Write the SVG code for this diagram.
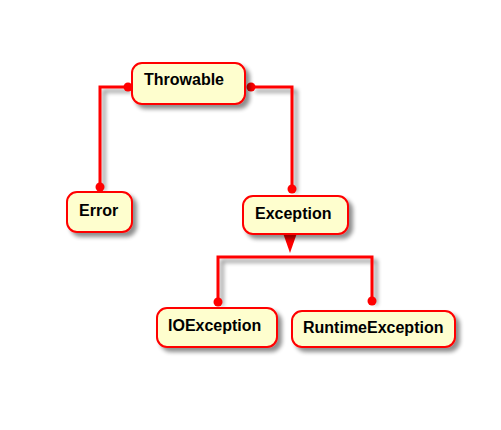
<svg xmlns="http://www.w3.org/2000/svg" width="501" height="430" viewBox="0 0 501 430">
<defs>
<filter id="sh" x="-20%" y="-20%" width="150%" height="160%">
<feGaussianBlur in="SourceAlpha" stdDeviation="2"/>
<feOffset dx="4" dy="4" result="b"/>
<feComponentTransfer><feFuncA type="linear" slope="0.45"/></feComponentTransfer>
<feMerge><feMergeNode/><feMergeNode in="SourceGraphic"/></feMerge>
</filter>
<style>
.box{fill:#FEFECE;stroke:#FF0000;stroke-width:2;filter:url(#sh)}
.lbl{font-family:"Liberation Sans",Arial,sans-serif;font-weight:bold;font-size:16px;fill:#000}
.ln{fill:none;stroke:#FF0000;stroke-width:3;filter:url(#sh)}
.dot{fill:#FF0000}
</style>
</defs>
<rect width="501" height="430" fill="#fff"/>
<g id="connectors">
<polyline class="ln" points="128,87 100,87 100,187"/>
<circle class="dot" cx="128" cy="87" r="4.5"/>
<circle class="dot" cx="100" cy="187" r="4.5"/>
<polyline class="ln" points="251,87 292,87 292,189"/>
<circle class="dot" cx="251" cy="87" r="4.5"/>
<circle class="dot" cx="292" cy="189" r="4.5"/>
<line class="ln" x1="290" y1="240" x2="290" y2="257"/>
<polyline class="ln" points="218,302 218,257 372,257 372,301"/>
<polygon fill="#FF0000" points="283,233 297,233 290,253"/>
<circle class="dot" cx="218" cy="302" r="4.5"/>
<circle class="dot" cx="372" cy="301" r="4.5"/>
</g>
<g id="throwable">
<rect class="box" x="132" y="63" width="113" height="41" rx="10"/>
<text class="lbl" x="144" y="85">Throwable</text>
</g>
<g id="error">
<rect class="box" x="67" y="192" width="65" height="40" rx="10"/>
<text class="lbl" x="79" y="216">Error</text>
</g>
<g id="exception">
<rect class="box" x="243" y="196" width="105" height="38" rx="10"/>
<text class="lbl" x="255" y="219">Exception</text>
</g>
<g id="ioexception">
<rect class="box" x="157" y="308" width="120" height="39" rx="10"/>
<text class="lbl" x="168" y="331">IOException</text>
</g>
<g id="runtimeexception">
<rect class="box" x="292" y="311" width="163" height="36" rx="10"/>
<text class="lbl" x="303" y="333">RuntimeException</text>
</g>
</svg>
